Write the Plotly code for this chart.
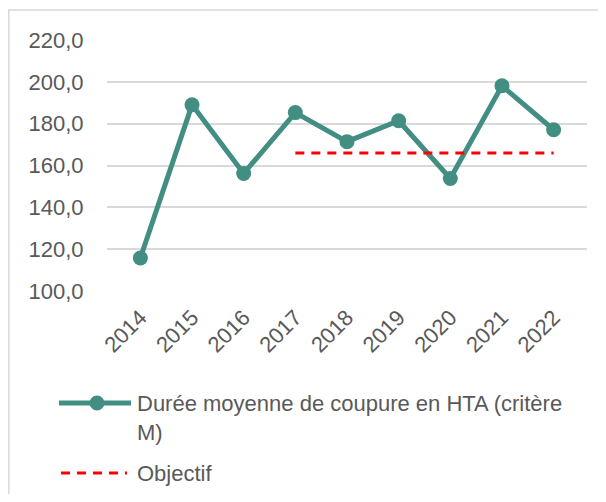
import plotly.graph_objects as go

# data
years = ["2014", "2015", "2016", "2017", "2018", "2019", "2020", "2021", "2022"]
duree = [115.8, 189.0, 156.2, 185.3, 171.4, 181.4, 153.8, 198.1, 177.1]
objectif_years = ["2017", "2018", "2019", "2020", "2021", "2022"]
objectif = [166.0, 166.0, 166.0, 166.0, 166.0, 166.0]

teal = "#438E83"
grey_text = "#595959"
font = "Liberation Sans"

# page body has an 8px margin: shrink the figure so it fits the window
OFF = 8
W, H = 606 - 2 * OFF, 502 - 2 * OFF
plot_left, plot_right, plot_top, plot_bottom = 107, 587, 40, 291  # screen px
L, T = plot_left - OFF, plot_top - OFF
R, B = W - (plot_right - OFF), H - (plot_bottom - OFF)
pw, ph = plot_right - plot_left, plot_bottom - plot_top


def px_x(x):
    return (x - plot_left) / pw


def px_y(y):
    return (plot_bottom - y) / ph


fig = go.Figure()

fig.add_trace(go.Scatter(
    x=years, y=duree, mode="lines+markers",
    line=dict(color=teal, width=5),
    marker=dict(color=teal, size=15),
    name="Durée moyenne de coupure en HTA (critère M)",
    showlegend=False,
))

fig.add_trace(go.Scatter(
    x=objectif_years, y=objectif, mode="lines",
    line=dict(color="#FF0000", width=3, dash="9px,7px"),
    name="Objectif",
    showlegend=False,
))

# hand-made legend (Excel-style long symbols)
shapes = [
    # chart border
    dict(type="rect", xref="paper", yref="paper",
         x0=px_x(8.8), x1=px_x(640), y0=px_y(540), y1=px_y(10),
         line=dict(color="#D9D9D9", width=1.5)),
    dict(type="line", xref="paper", yref="paper",
         x0=px_x(59), x1=px_x(131), y0=px_y(403), y1=px_y(403),
         line=dict(color=teal, width=5)),
    dict(type="circle", xref="paper", yref="paper",
         x0=px_x(89.5), x1=px_x(104.5), y0=px_y(410.5), y1=px_y(395.5),
         fillcolor=teal, line=dict(color=teal, width=0)),
    dict(type="line", xref="paper", yref="paper",
         x0=px_x(61), x1=px_x(127), y0=px_y(473), y1=px_y(473),
         line=dict(color="#FF0000", width=3, dash="9px,7px")),
]

annotations = [
    dict(xref="paper", yref="paper", x=px_x(135), y=px_y(418),
         xanchor="left", yanchor="middle", align="left", showarrow=False,
         text="Durée moyenne de coupure en HTA (critère<br>M)",
         font=dict(family=font, size=22, color=grey_text)),
    dict(xref="paper", yref="paper", x=px_x(135), y=px_y(473),
         xanchor="left", yanchor="middle", align="left", showarrow=False,
         text="Objectif",
         font=dict(family=font, size=22, color=grey_text)),
]

fig.update_layout(
    width=W, height=H,
    margin=dict(l=L, r=R, t=T, b=B),
    paper_bgcolor="white", plot_bgcolor="white",
    font=dict(family=font, size=22, color=grey_text),
    separators=",.",
    shapes=shapes,
    annotations=annotations,
    showlegend=False,
)

fig.update_xaxes(
    type="category", tickangle=-45,
    showgrid=False, showline=False, zeroline=False,
    ticks="outside", ticklen=4, tickcolor="rgba(0,0,0,0)",
    tickfont=dict(size=22, color=grey_text),
)

fig.update_yaxes(
    range=[100, 220], dtick=20, tickformat=".1f",
    showgrid=True, gridcolor="#D9D9D9", gridwidth=1.5,
    zeroline=False, showline=False,
    ticks="outside", ticklen=18, tickcolor="rgba(0,0,0,0)",
    tickfont=dict(size=22, color=grey_text),
)

fig.write_html("out.html")
